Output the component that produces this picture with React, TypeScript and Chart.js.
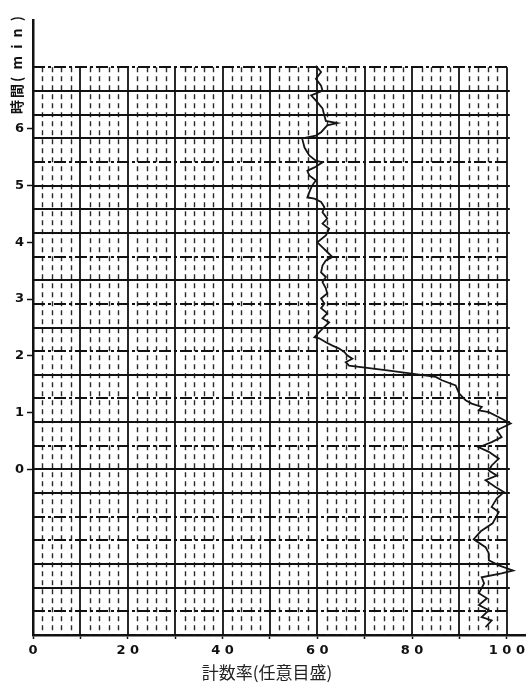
import React, { useEffect, useRef } from "react";
import { Chart, registerables } from "chart.js";

Chart.register(...registerables);

// ---- data ----
const timeMin = [
  -2.78, -2.66, -2.6, -2.48, -2.39, -2.27, -2.18, -2.01, -1.9, -1.83, -1.78, -1.69, -1.6, -1.48,
  -1.37, -1.23, -1.09, -0.95, -0.75, -0.66, -0.51, -0.4, -0.31, -0.19, -0.11, -0.02, 0.07, 0.19,
  0.31, 0.39, 0.48, 0.57, 0.69, 0.81, 0.92, 1.01, 1.04, 1.1, 1.16, 1.22, 1.34, 1.48, 1.57, 1.63,
  1.74, 1.83, 1.89, 1.95, 2.01, 2.07, 2.13, 2.18, 2.24, 2.31, 2.33, 2.42, 2.51, 2.59, 2.66, 2.75,
  2.84, 2.92, 3.01, 3.1, 3.19, 3.3, 3.39, 3.47, 3.59, 3.68, 3.74, 3.83, 3.91, 4.0, 4.12, 4.24,
  4.33, 4.42, 4.53, 4.62, 4.71, 4.77, 4.79, 4.88, 5.0, 5.09, 5.18, 5.26, 5.32, 5.41, 5.44, 5.53,
  5.67, 5.83, 5.88, 5.94, 6.06, 6.1, 6.14, 6.23, 6.36, 6.47, 6.59, 6.67, 6.76, 6.88, 7.0, 7.11,
];
const countRate = [
  95.5, 96.8, 94.7, 96.2, 94.1, 95.8, 94.1, 95.2, 94.7, 98.9, 101.3, 98.3, 96.2, 96.2,
  95.5, 93.0, 94.5, 97.0, 98.3, 96.8, 97.9, 99.4, 97.6, 95.5, 97.9, 96.2, 96.8, 98.3,
  96.2, 94.1, 96.8, 98.9, 97.9, 100.8, 98.3, 96.2, 94.1, 94.7, 92.6, 91.3, 89.9, 89.2, 86.3, 85.0,
  75.2, 66.7, 66.0, 67.4, 66.3, 65.7, 64.6, 63.2, 61.8, 60.4, 59.4, 60.4, 61.5, 62.5, 61.1, 62.1,
  60.8, 61.5, 60.8, 62.1, 61.8, 61.1, 61.8, 60.8, 61.1, 61.8, 63.2, 62.1, 61.1, 60.0, 61.8, 62.5,
  61.1, 62.1, 61.1, 61.5, 60.8, 59.4, 57.9, 58.3, 58.9, 59.7, 58.3, 57.9, 59.4, 61.1, 59.7, 58.3,
  57.3, 56.8, 59.7, 60.8, 62.1, 64.2, 61.8, 61.5, 61.1, 60.0, 58.7, 61.1, 60.8, 59.7, 60.8, 59.7,
];

const xTickValues = [0, 10, 20, 30, 40, 50, 60, 70, 80, 90, 100];
const xTickLabels: Record<number, string> = { 0: "0", 20: "2 0", 40: "4 0", 60: "6 0", 80: "8 0", 100: "1 0 0" };
const yTickValues = [0, 1, 2, 3, 4, 5, 6];
const yTickLabels = ["0", "1", "2", "3", "4", "5", "6"];

const X_TITLE = "計数率(任意目盛)";
const Y_TITLE = "時間( m i n )";

// chart-paper geometry (in data units)
const Y_MIN = -35 / 12;
const Y_MAX = 95 / 12;
const X_MAX = 104;
const PAPER_STEP = 5 / 12;
const PAPER_FIRST = -6;
const PAPER_LAST = 17;
// line style per horizontal paper line (s = solid, d = dash-dot), bottom to top
const paperRowStyles = "dssddssdsdsdsdsdsssdsssd";

const paperPlugin = {
  id: "paperGrid",
  beforeDatasetsDraw(chart: any) {
    const { ctx } = chart;
    const x = chart.scales.x;
    const y = chart.scales.y;
    const top = y.getPixelForValue(PAPER_LAST * PAPER_STEP);
    const bottom = y.getPixelForValue(Y_MIN);
    const left = x.getPixelForValue(0);
    const right = x.getPixelForValue(100);
    ctx.save();
    // minor verticals
    ctx.strokeStyle = "#2a2a2a";
    ctx.lineWidth = 1.4;
    ctx.setLineDash([5, 4]);
    for (let v = 2; v < 100; v += 2) {
      if (v % 10 === 0) continue;
      const px = Math.round(x.getPixelForValue(v)) + 0.5;
      ctx.beginPath();
      ctx.moveTo(px, top);
      ctx.lineTo(px, bottom);
      ctx.stroke();
    }
    // major verticals
    ctx.setLineDash([]);
    ctx.strokeStyle = "#111";
    ctx.lineWidth = 1.8;
    for (let v = 10; v <= 100; v += 10) {
      const px = Math.round(x.getPixelForValue(v));
      ctx.beginPath();
      ctx.moveTo(px, top);
      ctx.lineTo(px, bottom);
      ctx.stroke();
    }
    // horizontals
    for (let k = PAPER_FIRST; k <= PAPER_LAST; k++) {
      const st = paperRowStyles[k - PAPER_FIRST];
      const py = Math.round(y.getPixelForValue(k * PAPER_STEP));
      ctx.lineWidth = 2;
      ctx.strokeStyle = "#111";
      ctx.setLineDash(st === "s" ? [] : [12, 3, 3, 3]);
      ctx.beginPath();
      ctx.moveTo(left, py);
      ctx.lineTo(right + 3, py);
      ctx.stroke();
    }
    ctx.restore();
  },
  afterDraw(chart: any) {
    const { ctx } = chart;
    // y-axis title, upper left
    ctx.save();
    ctx.translate(17, 64);
    ctx.rotate(-Math.PI / 2);
    ctx.fillStyle = "#111";
    ctx.font = 'bold 14px "Noto Sans CJK JP"';
    (ctx as any).letterSpacing = "2px";
    ctx.textAlign = "center";
    ctx.textBaseline = "middle";
    ctx.fillText(Y_TITLE, 0, 0);
    ctx.restore();
    // x-axis title
    ctx.save();
    ctx.fillStyle = "#222";
    ctx.font = '17px "Noto Sans CJK JP"';
    ctx.textAlign = "center";
    ctx.textBaseline = "middle";
    ctx.fillText(X_TITLE, 267, 673);
    ctx.restore();
  },
};

export default function App() {
  const ref = useRef<HTMLCanvasElement | null>(null);
  useEffect(() => {
    document.body.style.margin = "0";
    const canvas = ref.current;
    if (!canvas) return;
    const chart = new Chart(canvas, {
      type: "scatter",
      data: {
        datasets: [
          {
            data: timeMin.map((t, i) => ({ x: countRate[i], y: t })),
            showLine: true,
            borderColor: "#151515",
            borderWidth: 1.8,
            pointRadius: 0,
            tension: 0,
          },
        ],
      },
      options: {
        animation: false,
        responsive: false,
        devicePixelRatio: 1,
        layout: { padding: { top: 20, right: 2, left: 0, bottom: 0 } },
        plugins: { legend: { display: false }, tooltip: { enabled: false } },
        scales: {
          x: {
            type: "linear",
            position: "bottom",
            min: 0,
            max: X_MAX,
            afterBuildTicks: (s: any) => {
              s.ticks = xTickValues.map((v) => ({ value: v }));
            },
            afterFit: (s: any) => {
              s.height = 58;
            },
            ticks: {
              autoSkip: false,
              maxRotation: 0,
              padding: 4,
              color: "#111",
              font: { family: "DejaVu Sans", weight: "bold", size: 13 },
              callback: (v: any) => xTickLabels[v as number] ?? "",
            },
            grid: { drawOnChartArea: false, drawTicks: true, tickLength: 4, color: "#111", tickWidth: 1.5 },
            border: { display: true, color: "#111", width: 2.5 },
          },
          y: {
            type: "linear",
            min: Y_MIN,
            max: Y_MAX,
            afterBuildTicks: (s: any) => {
              s.ticks = yTickValues.map((v) => ({ value: v }));
            },
            afterFit: (s: any) => {
              s.width = 33;
            },
            ticks: {
              autoSkip: false,
              padding: 3,
              color: "#111",
              font: { family: "DejaVu Sans", weight: "bold", size: 13 },
              callback: (v: any) => yTickLabels[yTickValues.indexOf(v as number)] ?? "",
            },
            grid: { drawOnChartArea: false, drawTicks: true, tickLength: 6, color: "#111", tickWidth: 1.5 },
            border: { display: true, color: "#111", width: 2.5 },
          },
        },
      },
      plugins: [paperPlugin],
    });
    return () => chart.destroy();
  }, []);
  return (
    <div style={{ position: "absolute", left: 0, top: 0, width: 529, height: 693, background: "#fff" }}>
      <canvas ref={ref} width={529} height={693} style={{ display: "block" }} />
    </div>
  );
}
